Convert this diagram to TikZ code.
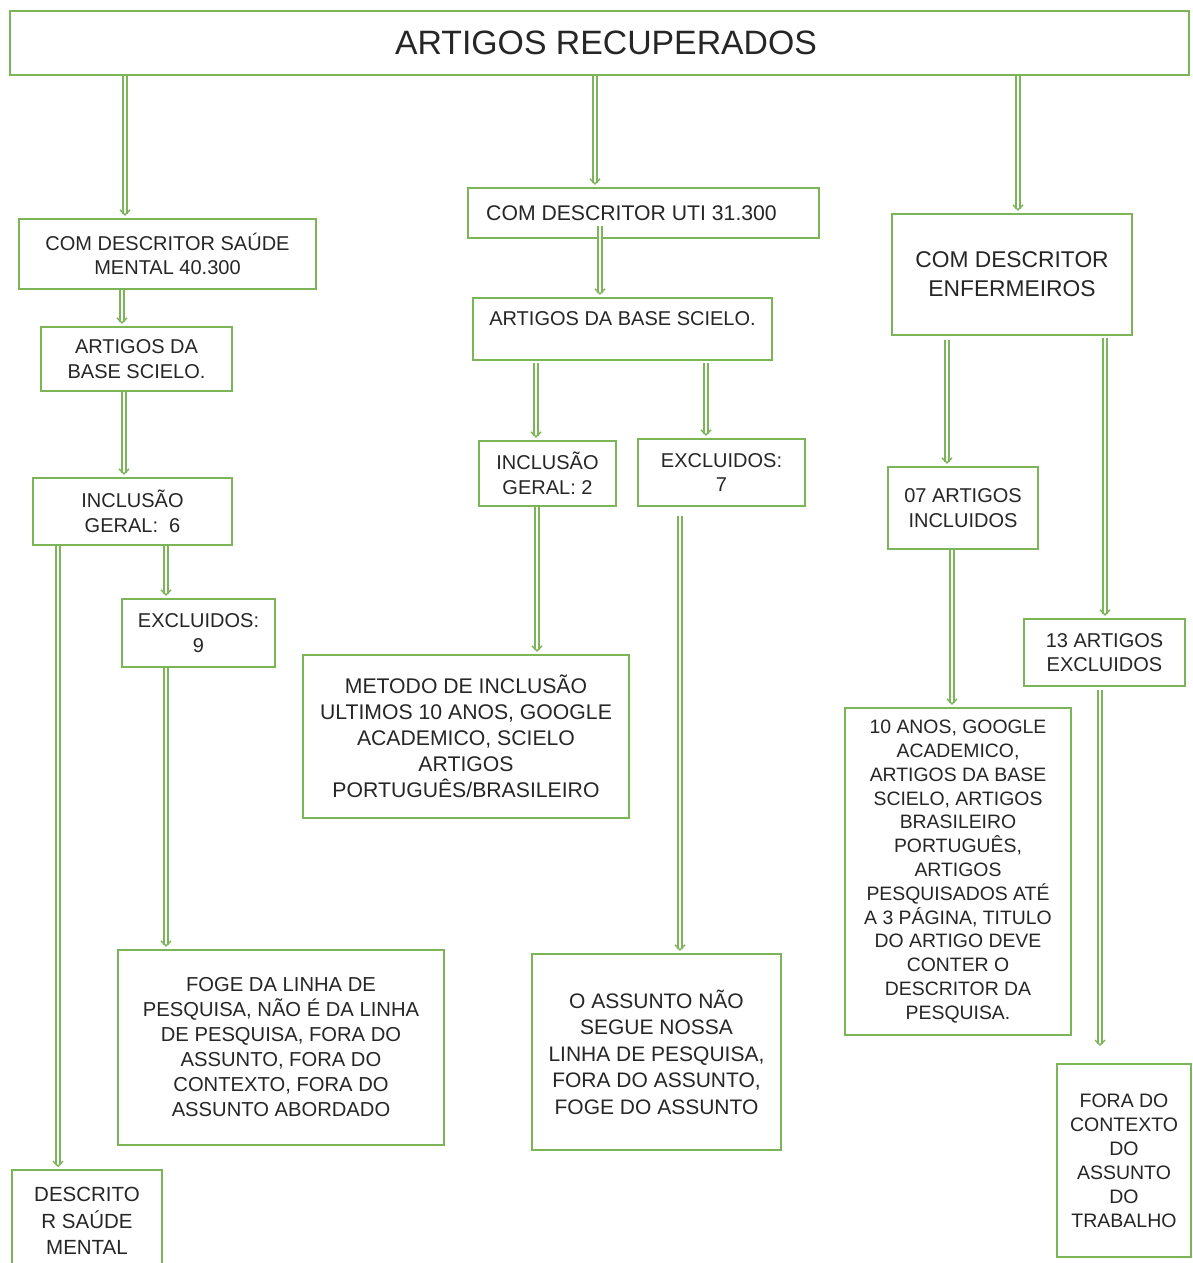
\documentclass[tikz,border=0pt]{standalone}
\usepackage{fontspec}
\setmainfont{Liberation Sans}
\usetikzlibrary{arrows.meta}
\definecolor{gr}{RGB}{124,180,88}
\begin{document}
\begin{tikzpicture}[x=1pt,y=-1pt,
  box/.style={draw=gr, line width=2.2pt, fill=white, inner sep=0pt, align=center,
    font=\fontsize{20}{24.5}\selectfont, text=black!85},
  arr/.style={draw=gr, double=white, double distance=2.2pt, line width=1.7pt,
    shorten >=2pt, -{Straight Barb[length=5pt,width=10pt,line width=1.4pt]}}]
\useasboundingbox[fill=white] (0,0) rectangle (1192,1263);

% title
\node[box, minimum width=1179pt, minimum height=64pt, font=\fontsize{33.8}{40}\selectfont] (T) at (599.5,43) {\hspace*{13pt}ARTIGOS RECUPERADOS};

% left column
\node[box, minimum width=297pt, minimum height=70pt] (A1) at (167.5,254) {COM DESCRITOR SAÚDE\\MENTAL 40.300};
\node[box, minimum width=191pt, minimum height=64pt] (A2) at (136.5,359) {ARTIGOS DA\\BASE SCIELO.};
\node[box, minimum width=199pt, minimum height=67pt] (A3) at (132.5,511.5) {INCLUSÃO\\GERAL:\ \ 6};
\node[box, minimum width=153pt, minimum height=68pt] (A4) at (198.5,633) {EXCLUIDOS:\\9};
\node[box, minimum width=326pt, minimum height=195pt, font=\fontsize{20.2}{25}\selectfont] (A5) at (281,1047.5) {FOGE DA LINHA DE\\PESQUISA, NÃO É DA LINHA\\DE PESQUISA, FORA DO\\ASSUNTO, FORA DO\\CONTEXTO, FORA DO\\ASSUNTO ABORDADO};
\node[box, minimum width=150pt, minimum height=110pt, anchor=north, font=\fontsize{20.5}{26.5}\selectfont, text depth=8pt] (A6) at (87,1169) {DESCRITO\\R SAÚDE\\MENTAL};

% middle column
\node[box, minimum width=351pt, minimum height=50pt, font=\fontsize{21.2}{25}\selectfont] (B1) at (643.5,213) {COM DESCRITOR UTI 31.300\hspace*{24pt}};
\node[box, minimum width=299pt, minimum height=62pt, text depth=20pt] (B2) at (622.5,329) {ARTIGOS DA BASE SCIELO.};
\node[box, minimum width=137pt, minimum height=65pt] (B3) at (547.5,473.5) {INCLUSÃO\\GERAL: 2};
\node[box, minimum width=167pt, minimum height=67pt] (B4) at (721.5,472.5) {EXCLUIDOS:\\7};
\node[box, minimum width=326pt, minimum height=163pt, font=\fontsize{21.2}{26}\selectfont] (B5) at (466,736.5) {METODO DE INCLUSÃO\\ULTIMOS 10 ANOS, GOOGLE\\ACADEMICO, SCIELO\\ARTIGOS\\PORTUGUÊS/BRASILEIRO};
\node[box, minimum width=249pt, minimum height=196pt, font=\fontsize{21}{26.5}\selectfont] (B6) at (656.5,1052) {O ASSUNTO NÃO\\SEGUE NOSSA\\LINHA DE PESQUISA,\\FORA DO ASSUNTO,\\FOGE DO ASSUNTO};

% right column
\node[box, minimum width=240pt, minimum height=121pt, font=\fontsize{22.8}{29}\selectfont] (C1) at (1012,274.5) {COM DESCRITOR\\ENFERMEIROS};
\node[box, minimum width=150pt, minimum height=82pt] (C2) at (963,508) {07 ARTIGOS\\INCLUIDOS};
\node[box, minimum width=161pt, minimum height=67pt] (C3) at (1104.5,652.5) {13 ARTIGOS\\EXCLUIDOS};
\node[box, minimum width=226pt, minimum height=327pt, font=\fontsize{19.4}{23.8}\selectfont] (C4) at (958,871.5) {10 ANOS, GOOGLE\\ACADEMICO,\\ARTIGOS DA BASE\\SCIELO, ARTIGOS\\BRASILEIRO\\PORTUGUÊS,\\ARTIGOS\\PESQUISADOS ATÉ\\A 3 PÁGINA, TITULO\\DO ARTIGO DEVE\\CONTER O\\DESCRITOR DA\\PESQUISA.};
\node[box, minimum width=134pt, minimum height=193pt, font=\fontsize{19.5}{24}\selectfont] (C5) at (1124,1160.5) {FORA DO\\CONTEXTO\\DO\\ASSUNTO\\DO\\TRABALHO};

% connectors
\draw[arr] (125,0 |- T.south) -- (125,0 |- A1.north);
\draw[arr] (122,0 |- A1.south) -- (122,0 |- A2.north);
\draw[arr] (124,0 |- A2.south) -- (124,0 |- A3.north);
\draw[arr] (166,0 |- A3.south) -- (166,0 |- A4.north);
\draw[arr] (166,0 |- A4.south) -- (166,0 |- A5.north);
\draw[arr] (58,0 |- A3.south) -- (58,0 |- A6.north);

\draw[arr] (595,0 |- T.south) -- (595,0 |- B1.north);
\draw[arr] (600,226) -- (600,0 |- B2.north);
\draw[arr] (536,363) -- (536,0 |- B3.north);
\draw[arr] (706,363) -- (706,0 |- B4.north);
\draw[arr] (537,0 |- B3.south) -- (537,0 |- B5.north);
\draw[arr] (680,516) -- (680,0 |- B6.north);

\draw[arr] (1018,0 |- T.south) -- (1018,0 |- C1.north);
\draw[arr] (947,340) -- (947,0 |- C2.north);
\draw[arr] (1105,338) -- (1105,0 |- C3.north);
\draw[arr] (952,0 |- C2.south) -- (952,0 |- C4.north);
\draw[arr] (1100,690) -- (1100,1048);
\end{tikzpicture}
\end{document}
